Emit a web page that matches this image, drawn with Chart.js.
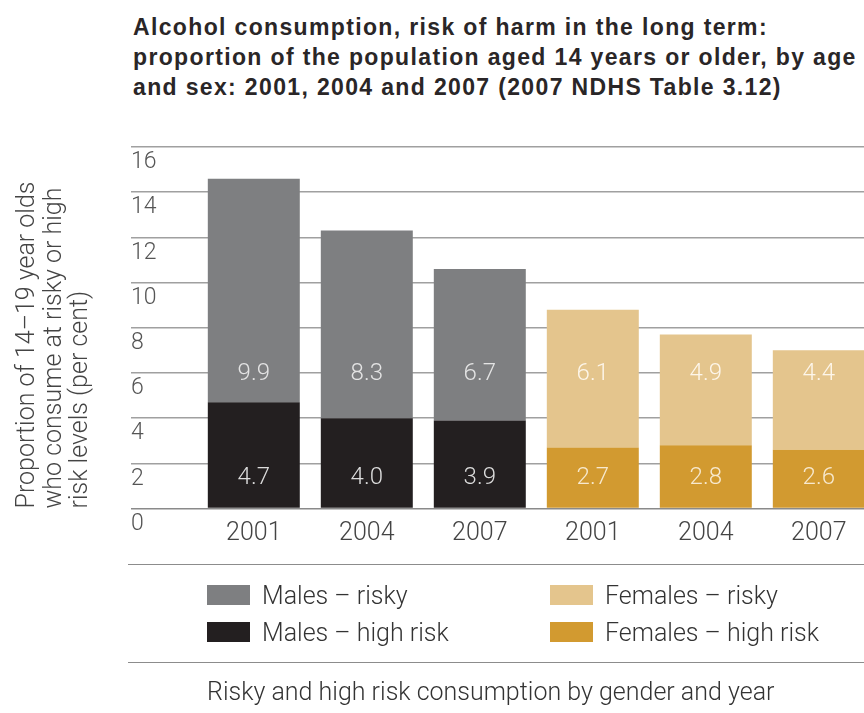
<!DOCTYPE html>
<html>
<head>
<meta charset="utf-8">
<script src="https://cdn.jsdelivr.net/npm/chart.js@4.4.1/dist/chart.umd.min.js"></script>
<style>
  html, body { margin: 0; padding: 0; background: #fff; }
  body { width: 864px; height: 713px; overflow: hidden; position: relative; font-family: Roboto, "Liberation Sans", Arial, sans-serif; }
  #chart { position: absolute; left: 0; top: 0; }
  .title { position: absolute; left: 133px; top: 12px; font-family: "Liberation Sans", Arial, sans-serif; font-size: 23px; line-height: 30px; font-weight: 700; letter-spacing: 1.35px; color: #2a2627; white-space: nowrap; }
  .rule { position: absolute; left: 128px; width: 736px; height: 0; border-top: 1.5px solid #8c8c8c; }
  .legend-item { position: absolute; height: 20px; display: flex; align-items: center; font-size: 25px; font-weight: 300; color: #333; white-space: nowrap; }
  .legend-item .swatch { width: 43px; height: 20px; margin-right: 12px; flex: none; }
  .caption { position: absolute; left: 207px; top: 677px; font-size: 25px; line-height: 30px; font-weight: 300; color: #333; white-space: nowrap; }
</style>
</head>
<body>
<div class="title">Alcohol consumption, risk of harm in the long term:<br>proportion of the population aged 14 years or older, by age<br>and sex: 2001, 2004 and 2007 (2007 NDHS Table 3.12)</div>
<canvas id="chart" width="900" height="713"></canvas>
<div class="rule" style="top:564px"></div>
<div id="legend"></div>
<div class="rule" style="top:662px"></div>
<div class="caption">Risky and high risk consumption by gender and year</div>
<script>
// Survey years, males first then females
const years = ['2001', '2004', '2007', '2001', '2004', '2007'];

// Per cent of 14–19 year olds, by consumption level
const malesHighRisk   = [4.7, 4.0, 3.9, null, null, null];
const malesRisky      = [9.9, 8.3, 6.7, null, null, null];
const femalesHighRisk = [null, null, null, 2.7, 2.8, 2.6];
const femalesRisky    = [null, null, null, 6.1, 4.9, 4.4];

const seriesNames = ['Males – high risk', 'Males – risky', 'Females – high risk', 'Females – risky'];
const seriesColors = ['#231f20', '#7e7f81', '#d29a30', '#e4c58d'];
const valueColors = ['#dcdcdc', '#e4e4e4', '#f7e9cf', '#fdf6ea'];
// axis level at which each series' value label sits
const labelLevels = [1.35, 5.95, 1.35, 5.95];

const yTickValues = [0, 2, 4, 6, 8, 10, 12, 14, 16];
const yTitleLines = ['Proportion of 14–19 year olds', 'who consume at risky or high', 'risk levels (per cent)'];

const seriesData = [malesHighRisk, malesRisky, femalesHighRisk, femalesRisky];

const datasets = seriesData.map((d, i) => ({
  label: seriesNames[i],
  data: d,
  backgroundColor: seriesColors[i],
  borderWidth: 0,
  categoryPercentage: 1,
  barPercentage: 0.814,
  stack: 'all'
}));

const lightFont = (size) => ({ family: 'Roboto, "Liberation Sans", Arial, sans-serif', size: size, weight: 300 });

// Value labels drawn inside each bar segment
const valueLabels = {
  id: 'valueLabels',
  afterDatasetsDraw(chart) {
    const ctx = chart.ctx;
    const yScale = chart.scales.y;
    ctx.save();
    ctx.font = '300 24px Roboto, "Liberation Sans", Arial, sans-serif';
    ctx.textAlign = 'center';
    ctx.textBaseline = 'middle';
    chart.data.datasets.forEach((ds, i) => {
      const meta = chart.getDatasetMeta(i);
      meta.data.forEach((bar, j) => {
        const v = ds.data[j];
        if (v === null || v === undefined) return;
        ctx.fillStyle = valueColors[i];
        ctx.fillText(v.toFixed(1), bar.x, yScale.getPixelForValue(labelLevels[i]));
      });
    });
    ctx.restore();
  }
};

const chart = new Chart(document.getElementById('chart'), {
  type: 'bar',
  data: { labels: years, datasets: datasets },
  options: {
    responsive: false,
    animation: false,
    devicePixelRatio: 1,
    layout: { padding: { left: 0, top: 147, right: 24.7, bottom: 164.5 } },
    plugins: {
      legend: { display: false },
      tooltip: { enabled: false }
    },
    scales: {
      x: {
        stacked: true,
        grid: { display: false, drawTicks: false },
        border: { display: false },
        ticks: { color: '#444', font: lightFont(25), padding: 10.5, maxRotation: 0 },
        afterFit: (s) => { s.height = 40; }
      },
      y: {
        stacked: true,
        position: 'left',
        weight: 0,
        min: 0,
        max: 16,
        afterBuildTicks: (s) => { s.ticks = yTickValues.map(v => ({ value: v })); },
        grid: {
          color: (c) => c.tick && c.tick.value === 0 ? '#8a8a8a' : '#a0a0a0',
          lineWidth: 1.5,
          drawTicks: true,
          tickLength: 66.3
        },
        border: { display: false },
        ticks: { color: '#555', font: lightFont(23), crossAlign: 'far', labelOffset: 15.5, padding: 0 },
        afterFit: (s) => { s.width = 66.3; }
      },
      yTitle: {
        type: 'linear',
        position: 'left',
        weight: 10,
        min: 0,
        max: 16,
        grid: { display: false, drawTicks: false },
        border: { display: false },
        ticks: { display: false },
        title: {
          display: true,
          text: yTitleLines,
          align: 'start',
          color: '#444',
          font: Object.assign(lightFont(25), { lineHeight: 1.06 }),
          padding: { top: 14.5, bottom: 0 }
        },
        afterFit: (s) => { s.width = 131; }
      }
    }
  },
  plugins: [valueLabels]
});

// Two-column legend: males on the left, females on the right
const legendLayout = [
  { series: 1, left: 207, top: 585 },
  { series: 0, left: 207, top: 622 },
  { series: 3, left: 550, top: 585 },
  { series: 2, left: 550, top: 622 }
];
const legendEl = document.getElementById('legend');
legendLayout.forEach(item => {
  const ds = chart.data.datasets[item.series];
  const div = document.createElement('div');
  div.className = 'legend-item';
  div.style.left = item.left + 'px';
  div.style.top = item.top + 'px';
  const sw = document.createElement('span');
  sw.className = 'swatch';
  sw.style.background = ds.backgroundColor;
  const tx = document.createElement('span');
  tx.textContent = ds.label;
  div.appendChild(sw);
  div.appendChild(tx);
  legendEl.appendChild(div);
});
</script>
</body>
</html>
